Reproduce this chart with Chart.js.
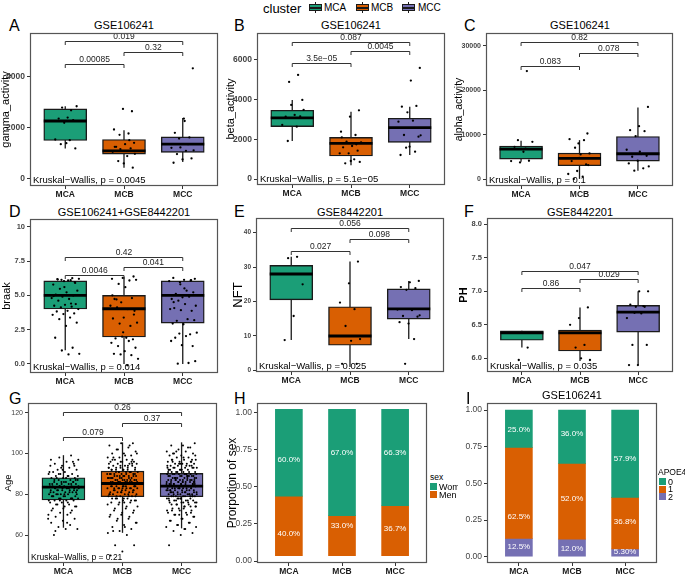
<!DOCTYPE html>
<html>
<head>
<meta charset="utf-8">
<script src="https://cdn.jsdelivr.net/npm/chart.js@4.4.1/dist/chart.umd.min.js"></script>
<style>
  body { margin: 0; background: #fff; font-family: "Liberation Sans", Arial, sans-serif; }
  #page { position: relative; width: 685px; height: 575px; overflow: hidden; background: #fff; }
  canvas { position: absolute; }
  .t { position: absolute; white-space: nowrap; line-height: 1; color: #000; }
  .c { transform: translate(-50%, -50%); }
  .l { transform: translateY(-50%); }
  .letter { font-size: 16px; }
  .title { font-size: 11px; }
  .key { position: absolute; }
</style>
</head>
<body>
<div id="page">
  <div class="t l" style="left:263px;top:8px;font-size:13px;">cluster</div>

  <div class="t l letter" style="left:9px;top:26px;">A</div>
  <div class="t l letter" style="left:234px;top:26px;">B</div>
  <div class="t l letter" style="left:464px;top:26px;">C</div>
  <div class="t l letter" style="left:9px;top:212px;">D</div>
  <div class="t l letter" style="left:234px;top:212px;">E</div>
  <div class="t l letter" style="left:464px;top:212px;">F</div>
  <div class="t l letter" style="left:9px;top:399px;">G</div>
  <div class="t l letter" style="left:234px;top:399px;">H</div>
  <div class="t l letter" style="left:466px;top:399px;z-index:3;">I</div>

  <div class="t c title" style="left:124px;top:25px;">GSE106241</div>
  <div class="t c title" style="left:351px;top:25px;">GSE106241</div>
  <div class="t c title" style="left:580px;top:25px;">GSE106241</div>
  <div class="t c title" style="left:124px;top:212px;">GSE106241+GSE8442201</div>
  <div class="t c title" style="left:350px;top:212px;">GSE8442201</div>
  <div class="t c title" style="left:580px;top:212px;">GSE8442201</div>
  <div class="t c title" style="left:572px;top:395px;z-index:3;">GSE106241</div>

  <div class="t l" style="left:430px;top:477px;font-size:8.5px;">sex</div>
  <div class="t l" style="left:658px;top:472px;font-size:8.5px;z-index:3;">APOE4</div>
</div>

<script>
var FONT = '"Liberation Sans", Arial, sans-serif';

// categories
var groups = ['MCA', 'MCB', 'MCC'];
var comparePairs = [[1, 2], [2, 3], [1, 3]];
var clusterColors = ['#1B9E77', '#D95F02', '#7570B3'];

// A: gamma_activity  (box stats: lower whisker, q1, median, q3, upper whisker)
var gammaStats = [[1173, 1485, 2250, 2723, 2827], [417, 951, 1081, 1524, 1889], [638, 1016, 1342, 1629, 2371]];
var gammaPoints = [
  [2671, 2775, 2827, 2384, 2345, 2280, 2176, 1524, 1498, 1342, 1173, 1380],
  [2632, 2723, 1915, 1759, 1707, 1394, 1342, 1238, 1173, 1081, 1042, 873, 678, 417, 586, 1238, 1498, 1150, 960],
  [4313, 2345, 1785, 1603, 1212, 1199, 1081, 951, 782, 743, 612, 1342, 1563, 1100, 2250]
];
var gammaSigY = [4500, 4960, 5390];
var gammaSigP = ['0.00085', '0.32', '0.019'];
var gammaTicks = [0, 2000, 4000];
var gammaTickLabels = ['0', '2000', '4000'];

// B: beta_activity
var betaStats = [[1916, 2639, 3076, 3462, 3983], [689, 1160, 1798, 2101, 3395], [1210, 1849, 2588, 3059, 3647]];
var betaPoints = [
  [5244, 4891, 3479, 3227, 3143, 3160, 3731, 2723, 2639, 1916, 3983],
  [3462, 3143, 2387, 2218, 1882, 1850, 1664, 1597, 1429, 1294, 1294, 992, 790, 860, 908, 2101, 1750],
  [5597, 4958, 3647, 3681, 3361, 2891, 2941, 2218, 2134, 1630, 1210, 1378, 1580, 2200]
];
var betaSigY = [5859, 6448, 6902];
var betaSigP = ['3.5e\u221205', '0.0045', '0.087'];
var betaTicks = [0, 2000, 4000, 6000];
var betaTickLabels = ['0', '2000', '4000', '6000'];

// C: alpha_activity
var alphaStats = [[3955, 4552, 6791, 7463, 8657], [100, 3060, 4701, 5896, 8806], [1940, 4104, 5746, 9627, 16119]];
var alphaPoints = [
  [24328, 8806, 8433, 6194, 7313, 4179, 3806, 4104, 6900],
  [10299, 8060, 9030, 8806, 7090, 5821, 5597, 4104, 3358, 1866, 1194, 597, 75, 3200, 4800],
  [16269, 11940, 11045, 10821, 9701, 6642, 5672, 5075, 5299, 4179, 3582, 2463, 1940, 2900, 6194]
];
var alphaSigY = [25528, 28449, 30854];
var alphaSigP = ['0.083', '0.078', '0.82'];
var alphaTicks = [0, 10000, 20000, 30000];
var alphaTickLabels = ['0', '10000', '20000', '30000'];

// D: braak
var braakStats = [[1, 4, 5, 6.05, 6.05], [0, 1.96, 4.02, 5, 6.35], [0, 2.97, 5, 6.05, 6.05]];
var braakPoints = [
  [6.25, 6.13, 6.2, 6.08, 6.18, 5.96, 6.03, 5.78, 6.1, 5.47, 5.34, 5.22, 5.05, 4.98, 4.9, 4.8, 4.73, 4.61, 4.36, 4.31,
   4.24, 4.17, 4.12, 4.0, 3.87, 3.82, 3.68, 3.63, 3.58, 3.38, 3.26, 3.01, 2.77, 1.91, 1.18, 0.98, 0.74, 0.69, 6.15, 5.9, 5.6, 4.95, 4.4],
  [6.37, 6.27, 6.2, 6.08, 5.83, 6.13, 5.59, 4.73, 4.8, 4.49, 4.24, 4.0, 4.12, 3.87, 3.38, 3.31, 2.77, 2.94, 3.01, 1.91,
   1.86, 1.79, 1.99, 1.54, 1.67, 1.3, 1.18, 0.93, 0.74, 0.64, 0.69, 0.37, -0.1, 4.7, 3.6, 2.3, 5.0],
  [6.2, 6.13, 6.27, 6.08, 5.96, 6.03, 5.34, 5.1, 5.22, 4.85, 4.73, 4.9, 4.61, 4.24, 4.36, 4.07, 3.87, 3.92, 4.0, 3.26,
   3.14, 3.19, 2.89, 2.94, 2.16, 2.21, 2.28, 2.03, 1.91, 1.3, 1.37, 1.67, 0.07, 0.02, 0.2, 5.5, 4.5, 6.1, 5.8]
];
var braakSigY = [6.48, 7.04, 7.81];
var braakSigP = ['0.0046', '0.041', '0.42'];
var braakTicks = [0, 2.5, 5, 7.5, 10];
var braakTickLabels = ['0.0', '2.5', '5.0', '7.5', '10'];

// E: NFT
var nftStats = [[8.8, 20.5, 28.0, 30.5, 33.0], [1.0, 7.3, 10.0, 18.5, 31.6], [9.1, 14.9, 17.9, 23.7, 26.0]];
var nftPoints = [
  [33.0, 32.6, 25.0, 15.8, 8.8],
  [31.6, 25.3, 19.7, 17.8, 12.9, 9.1, 8.6, 1.9, 1.9],
  [26.0, 25.6, 24.2, 23.9, 23.4, 17.7, 17.5, 15.8, 15.6, 13.6, 14.0, 9.1, 1.9, 16.0]
];
var nftSigY = [34.7, 38.1, 41.3];
var nftSigP = ['0.027', '0.098', '0.056'];
var nftTicks = [0, 10, 20, 30, 40];
var nftTickLabels = ['0', '10', '20', '30', '40'];

// F: PH
var phStats = [[6.16, 6.27, 6.38, 6.41, 6.41], [5.96, 6.11, 6.38, 6.42, 6.76], [5.9, 6.39, 6.69, 6.79, 7.0]];
var phPoints = [
  [6.16, 5.975],
  [6.76, 6.6, 6.5, 6.2, 6.16, 5.975, 6.0],
  [7.0, 7.0, 6.8, 6.77, 6.77, 6.6, 6.67, 6.2, 6.2, 5.9, 5.9, 6.78, 6.68]
];
var phSigY = [7.045, 7.18, 7.31];
var phSigP = ['0.86', '0.029', '0.047'];
var phTicks = [6, 6.5, 7, 7.5, 8];
var phTickLabels = ['6.0', '6.5', '7.0', '7.5', '8.0'];

// G: Age
var ageStats = [[63.6, 77.2, 83.5, 88.1, 99.2], [61.1, 78.8, 85.3, 91.4, 105.5], [63.3, 78.8, 84.0, 90.3, 105.5]];
var agePoints = [
  [99, 98, 97, 96, 95, 95, 94, 94, 93, 92, 92, 91, 91, 90, 90, 90, 89, 89, 88, 88, 88, 87, 87, 87, 86, 86, 86, 86, 85, 85,
   85, 85, 84, 84, 84, 84, 83, 83, 83, 83, 83, 82, 82, 82, 82, 81, 81, 81, 80, 80, 80, 80, 79, 79, 79, 78, 78, 78, 77, 77,
   77, 76, 76, 75, 75, 74, 74, 73, 72, 71, 70, 70, 69, 68, 67, 66, 65, 64, 63, 63, 60,
   96, 93, 91, 89, 88, 87, 86, 85, 85, 84, 84, 83, 83, 82, 82, 81, 81, 80, 80, 79, 79, 78, 78, 77, 76, 75, 74, 73, 72, 71,
   90, 89, 88, 87, 86, 85, 84, 83, 82, 81, 80, 79, 78, 77, 68, 66, 62, 94, 92, 97],
  [105, 105, 104, 103, 102, 101, 100, 100, 99, 98, 98, 97, 97, 96, 96, 96, 95, 95, 95, 94, 94, 94, 93, 93, 93, 92, 92, 92, 92, 91,
   91, 91, 91, 90, 90, 90, 90, 89, 89, 89, 89, 88, 88, 88, 88, 87, 87, 87, 87, 86, 86, 86, 86, 86, 85, 85, 85, 85, 85, 84,
   84, 84, 84, 83, 83, 83, 83, 82, 82, 82, 81, 81, 81, 80, 80, 80, 79, 79, 79, 78, 78, 77, 77, 76, 76, 75, 74, 73, 72, 71,
   70, 69, 68, 67, 66, 65, 64, 63, 62, 61, 60, 55, 55, 52, 50,
   104, 102, 100, 99, 98, 97, 96, 95, 94, 93, 93, 92, 92, 91, 91, 90, 90, 89, 89, 88, 88, 88, 87, 87, 87, 86, 86, 86, 85, 85,
   85, 84, 84, 84, 83, 83, 83, 82, 82, 81, 81, 80, 80, 79, 79, 78, 78, 77, 76, 75, 74, 73, 72, 71, 70, 69, 68, 66, 64, 62,
   95, 94, 93, 92, 91, 90, 89, 88, 87, 86, 85, 84, 83, 82, 81, 80, 79, 78, 77, 76, 97, 96, 89, 88, 86, 85, 84, 83, 90, 91],
  [105, 104, 104, 103, 102, 101, 101, 100, 100, 99, 99, 98, 98, 97, 97, 97, 96, 96, 96, 95, 95, 95, 95, 94, 94, 94, 93, 93, 93, 93,
   92, 92, 92, 91, 91, 91, 91, 90, 90, 90, 90, 90, 89, 89, 89, 89, 88, 88, 88, 88, 87, 87, 87, 87, 87, 86, 86, 86, 86, 86,
   85, 85, 85, 85, 85, 84, 84, 84, 84, 84, 84, 83, 83, 83, 83, 83, 82, 82, 82, 82, 81, 81, 81, 81, 80, 80, 80, 80, 79, 79,
   79, 79, 78, 78, 78, 77, 77, 77, 76, 76, 75, 75, 74, 74, 73, 72, 72, 71, 70, 70, 69, 68, 67, 66, 65, 64, 63, 62, 61, 60, 55,
   103, 101, 99, 98, 97, 96, 95, 94, 94, 93, 93, 92, 92, 91, 91, 90, 90, 90, 89, 89, 89, 88, 88, 88, 87, 87, 87, 86, 86, 86,
   85, 85, 85, 85, 84, 84, 84, 84, 83, 83, 83, 82, 82, 82, 81, 81, 81, 80, 80, 80, 79, 79, 79, 78, 78, 77, 77, 76, 76, 75,
   74, 73, 72, 71, 70, 69, 68, 67, 66, 65, 64, 63, 96, 94, 92, 91, 89, 88, 87, 86, 85, 84, 83, 82, 81, 80, 79, 78, 77, 76,
   75, 74, 73, 72, 71, 70, 93, 90, 88, 86, 84, 82, 80, 78, 76, 74, 100, 97, 95, 92, 89, 87, 85, 83, 81, 79]
];
var ageSigY = [107.9, 114.8, 120.5];
var ageSigP = ['0.079', '0.37', '0.26'];
var ageTicks = [60, 80, 100, 120];
var ageTickLabels = ['60', '80', '100', '120'];

// H: sex proportions
var sexLevels = ['Women', 'Men'];
var sexColors = ['#1B9E77', '#D95F02'];
var sexBarBottom = [0.036, 0.036, 0.036];
var sexMenTop = [0.438, 0.306, 0.373];
var sexBarTop = [1.022, 1.022, 1.022];
var sexWomenLabels = ['60.0%', '67.0%', '66.3%'];
var sexWomenLabelY = [0.681, 0.73, 0.73];
var sexMenLabels = ['40.0%', '33.0%', '36.7%'];
var sexMenLabelY = [0.187, 0.238, 0.216];

// I: APOE4 proportions
var apoeLevels = ['0', '1', '2'];
var apoeColors = ['#1B9E77', '#D95F02', '#7570B3'];
var apoe2Top = [0.125, 0.12, 0.053];
var apoe1Top = [0.745, 0.636, 0.405];
var apoeTop = [1, 1, 1];
var apoe0Labels = ['25.0%', '36.0%', '57.9%'];
var apoe0LabelY = [0.868, 0.836, 0.67];
var apoe1Labels = ['62.5%', '52.0%', '36.8%'];
var apoe1LabelY = [0.273, 0.398, 0.239];
var apoe2Labels = ['12.5%', '12.0%', '5.30%'];
var apoe2LabelY = [0.068, 0.052, 0.034];
var propTicks = [0, 0.25, 0.5, 0.75, 1];
var propTickLabels = ['0.00', '0.25', '0.50', '0.75', '1.00'];

var page = document.getElementById('page');

function jitterX(i, w) {
  return (((i + 1) * 0.618034 + 0.13) % 1 - 0.5) * 2 * w;
}

function makeCanvas(geo) {
  var cv = document.createElement('canvas');
  var h = geo.B - geo.T + 8 + 14;
  cv.width = geo.cw; cv.height = h;
  cv.style.left = geo.cl + 'px';
  cv.style.top = (geo.T - 8) + 'px';
  cv.style.width = geo.cw + 'px';
  cv.style.height = h + 'px';
  if (geo.bg) { cv.style.background = geo.bg; cv.style.zIndex = 2; }
  page.appendChild(cv);
  return cv;
}

function axisOptions(geo, s) {
  return {
    x: {
      type: 'linear', min: 0.4, max: 3.6, offset: false,
      afterBuildTicks: function(ax) { ax.ticks = [1, 2, 3].map(function(v) { return {value: v}; }); },
      afterFit: function(ax) { ax.height = 14; },
      ticks: {
        callback: function(v, i) { return groups[i]; },
        font: {family: FONT, size: 8.5, weight: 'bold'}, color: '#1a1a1a', padding: 1, maxRotation: 0, autoSkip: false
      },
      grid: {display: true, drawOnChartArea: false, drawTicks: true, tickLength: 3, color: '#333', offset: false},
      border: {display: false}
    },
    y: {
      type: 'linear', min: s.yMin, max: s.yMax,
      afterBuildTicks: function(ax) { ax.ticks = s.ticks.map(function(v) { return {value: v}; }); },
      afterFit: function(ax) { ax.width = geo.L - geo.cl; },
      ticks: {
        callback: function(v, i) { return s.tickLabels[i]; },
        font: {family: FONT, size: s.tickSize || 7.5, weight: s.tickWeight || 'bold'}, color: '#444', padding: 2, autoSkip: false
      },
      grid: {display: true, drawOnChartArea: false, drawTicks: true, tickLength: 3, color: '#333'},
      border: {display: false},
      title: {
        display: !!s.yTitle, text: s.yTitle, color: '#000',
        font: {family: FONT, size: s.yTitleSize || 11, weight: s.yTitleWeight || 'normal', lineHeight: 1},
        padding: {top: Math.max(0, geo.yTitleX - geo.cl - (s.yTitleSize || 11) / 2), bottom: 0}
      }
    }
  };
}

function drawFrame(chart) {
  var a = chart.chartArea, ctx = chart.ctx;
  ctx.save();
  ctx.strokeStyle = '#555';
  ctx.lineWidth = 1.2;
  ctx.strokeRect(a.left + 0.5, a.top + 0.5, a.right - a.left - 1, a.bottom - a.top - 1);
  ctx.restore();
}

function boxExtras(s) {
  return {
    id: 'boxExtras',
    beforeDatasetsDraw: function(chart) {
      var ctx = chart.ctx, xs = chart.scales.x, ys = chart.scales.y;
      ctx.save();
      ctx.strokeStyle = '#1a1a1a';
      ctx.lineWidth = 1.3;
      s.stats.forEach(function(st, g) {
        var px = xs.getPixelForValue(g + 1);
        ctx.beginPath();
        ctx.moveTo(px, ys.getPixelForValue(st[0]));
        ctx.lineTo(px, ys.getPixelForValue(st[4]));
        ctx.stroke();
      });
      ctx.restore();
    },
    afterDatasetDraw: function(chart, args) {
      if (args.index !== 0) return;
      var ctx = chart.ctx, xs = chart.scales.x, ys = chart.scales.y;
      ctx.save();
      ctx.strokeStyle = '#000';
      ctx.lineWidth = 2.8;
      s.stats.forEach(function(st, g) {
        var px = xs.getPixelForValue(g + 1), py = ys.getPixelForValue(st[2]);
        ctx.beginPath();
        ctx.moveTo(px - s.boxW / 2, py);
        ctx.lineTo(px + s.boxW / 2, py);
        ctx.stroke();
      });
      ctx.restore();
    },
    afterDraw: function(chart) {
      var ctx = chart.ctx, xs = chart.scales.x, ys = chart.scales.y, a = chart.chartArea;
      ctx.save();
      ctx.strokeStyle = '#333';
      ctx.lineWidth = 1;
      ctx.fillStyle = '#222';
      ctx.font = '8.5px ' + FONT;
      ctx.textAlign = 'center';
      ctx.textBaseline = 'bottom';
      comparePairs.forEach(function(p, k) {
        var x1 = xs.getPixelForValue(p[0]), x2 = xs.getPixelForValue(p[1]);
        var py = Math.round(ys.getPixelForValue(s.sigY[k])) + 0.5;
        ctx.beginPath();
        ctx.moveTo(x1, py + 3.5);
        ctx.lineTo(x1, py);
        ctx.lineTo(x2, py);
        ctx.lineTo(x2, py + 3.5);
        ctx.stroke();
        ctx.fillText(s.sigP[k], (x1 + x2) / 2, py - 0.5);
      });
      ctx.textAlign = 'left';
      ctx.textBaseline = 'middle';
      ctx.fillStyle = '#000';
      ctx.font = (s.kwSize || 9.5) + 'px ' + FONT;
      ctx.fillText(s.kw, a.left + 3, a.bottom - 5.5);
      ctx.restore();
      drawFrame(chart);
    }
  };
}

function boxChart(geo, s) {
  var pts = [];
  s.points.forEach(function(arr, g) {
    arr.forEach(function(v, i) {
      pts.push({x: g + 1 + jitterX(i + 5 * g, s.jw || 0.2), y: v});
    });
  });
  s.boxW = s.boxW || 43;
  new Chart(makeCanvas(geo), {
    type: 'bar',
    data: {
      datasets: [
        {
          type: 'bar', order: 1, grouped: false,
          data: s.stats.map(function(st, g) { return {x: g + 1, y: [st[1], st[3]]}; }),
          backgroundColor: clusterColors, borderColor: '#1a1a1a', borderWidth: 1.4,
          borderSkipped: false, barThickness: s.boxW
        },
        {
          type: 'scatter', order: 0, data: pts,
          pointRadius: s.r || 1.15, pointBackgroundColor: '#000', pointBorderWidth: 0
        }
      ]
    },
    options: {
      responsive: false, animation: false, devicePixelRatio: 1,
      layout: {padding: {left: 0, right: geo.cl + geo.cw - geo.R, top: 8, bottom: 0}},
      plugins: {legend: {display: false}, tooltip: {enabled: false}},
      scales: axisOptions(geo, s)
    },
    plugins: [boxExtras(s)]
  });
}

function stackChart(geo, s) {
  new Chart(makeCanvas(geo), {
    type: 'bar',
    data: {
      datasets: s.layers.map(function(layer) {
        return {
          grouped: false,
          data: layer.lo.map(function(lo, g) { return {x: g + 1, y: [lo, layer.hi[g]]}; }),
          backgroundColor: layer.color, borderWidth: 0, barThickness: 27
        };
      })
    },
    options: {
      responsive: false, animation: false, devicePixelRatio: 1,
      layout: {padding: {left: 0, right: geo.cl + geo.cw - geo.R, top: 8, bottom: 0}},
      plugins: {legend: {display: false}, tooltip: {enabled: false}},
      scales: axisOptions(geo, s)
    },
    plugins: [{
      id: 'stackLabels',
      afterDatasetsDraw: function(chart) {
        var ctx = chart.ctx, xs = chart.scales.x, ys = chart.scales.y;
        ctx.save();
        ctx.fillStyle = '#fff';
        ctx.font = '8px ' + FONT;
        ctx.textAlign = 'center';
        ctx.textBaseline = 'middle';
        s.layers.forEach(function(layer) {
          layer.labels.forEach(function(txt, g) {
            ctx.fillText(txt, xs.getPixelForValue(g + 1), ys.getPixelForValue(layer.labelY[g]));
          });
        });
        ctx.restore();
      },
      afterDraw: drawFrame
    }]
  });
}

// cluster legend at the top
var keyX = [309, 356, 402];
var keyTextX = [324, 371, 418];
groups.forEach(function(name, g) {
  var k = document.createElement('div');
  k.className = 'key';
  k.style.cssText = 'left:' + keyX[g] + 'px;top:2px;width:13px;height:11px;';
  k.innerHTML =
    '<div style="position:absolute;left:6px;top:0;width:1px;height:11px;background:#1a1a1a"></div>' +
    '<div style="position:absolute;left:0;top:2px;width:11px;height:5px;background:' + clusterColors[g] + ';border:1px solid #1a1a1a"></div>' +
    '<div style="position:absolute;left:0;top:4.5px;width:13px;height:2px;background:#1a1a1a"></div>';
  page.appendChild(k);
  var t = document.createElement('div');
  t.className = 't l';
  t.style.cssText = 'left:' + keyTextX[g] + 'px;top:8px;font-size:10px;';
  t.textContent = name;
  page.appendChild(t);
});

// fill legends for H and I
function fillKey(x, y, color, label, z) {
  var k = document.createElement('div');
  k.className = 'key';
  k.style.cssText = 'left:' + x + 'px;top:' + y + 'px;width:7px;height:7px;background:' + color + ';z-index:' + z;
  page.appendChild(k);
  var t = document.createElement('div');
  t.className = 't l';
  t.style.cssText = 'left:' + (x + 9) + 'px;top:' + (y + 3.5) + 'px;font-size:9px;z-index:' + z;
  t.textContent = label;
  page.appendChild(t);
}
fillKey(430, 483, sexColors[0], sexLevels[0], 1);
fillKey(430, 491, sexColors[1], sexLevels[1], 1);
fillKey(659, 478, apoeColors[0], apoeLevels[0], 3);
fillKey(659, 485.5, apoeColors[1], apoeLevels[1], 3);
fillKey(659, 493, apoeColors[2], apoeLevels[2], 3);

var KW = 'Kruskal\u2212Wallis, p = ';

boxChart({cl: 0, cw: 225, L: 30, R: 218, T: 33, B: 186, yTitleX: 6},
  {stats: gammaStats, points: gammaPoints, sigY: gammaSigY, sigP: gammaSigP, kw: KW + '0.0045',
   yMin: -300, yMax: 5700, ticks: gammaTicks, tickLabels: gammaTickLabels, yTitle: 'gamma_activity', tickSize: 8.5});

boxChart({cl: 225, cw: 230, L: 257, R: 445, T: 33, B: 185, yTitleX: 231},
  {stats: betaStats, points: betaPoints, sigY: betaSigY, sigP: betaSigP, kw: KW + '5.1e\u221205',
   yMin: -300, yMax: 7355, ticks: betaTicks, tickLabels: betaTickLabels, yTitle: 'beta_activity', tickSize: 8.5});

boxChart({cl: 450, cw: 235, L: 486, R: 673, T: 33, B: 186, yTitleX: 459},
  {stats: alphaStats, points: alphaPoints, sigY: alphaSigY, sigP: alphaSigP, kw: KW + '0.1',
   yMin: -1500, yMax: 32880, ticks: alphaTicks, tickLabels: alphaTickLabels, yTitle: 'alpha_activity', yTitleSize: 10.5,
   tickSize: 7});

boxChart({cl: 0, cw: 225, L: 30, R: 218, T: 219, B: 373, yTitleX: 7},
  {stats: braakStats, points: braakPoints, sigY: braakSigY, sigP: braakSigP, kw: KW + '0.014',
   yMin: -0.66, yMax: 10.56, ticks: braakTicks, tickLabels: braakTickLabels, yTitle: 'braak', jw: 0.24, tickSize: 7.5});

boxChart({cl: 225, cw: 230, L: 256, R: 444, T: 218, B: 372, yTitleX: 238},
  {stats: nftStats, points: nftPoints, sigY: nftSigY, sigP: nftSigP, kw: KW + '0.025',
   yMin: -0.46, yMax: 44.27, ticks: nftTicks, tickLabels: nftTickLabels, yTitle: 'NFT', yTitleSize: 13, tickSize: 6.5});

boxChart({cl: 455, cw: 230, L: 487, R: 673, T: 218, B: 372, yTitleX: 464},
  {stats: phStats, points: phPoints, sigY: phSigY, sigP: phSigP, kw: KW + '0.035',
   yMin: 5.796, yMax: 8.094, ticks: phTicks, tickLabels: phTickLabels, yTitle: 'PH', yTitleWeight: 'bold', tickSize: 7.5});

boxChart({cl: 0, cw: 225, L: 28, R: 217, T: 403, B: 563, yTitleX: 8},
  {stats: ageStats, points: agePoints, sigY: ageSigY, sigP: ageSigP, kw: KW + '0.21', kwSize: 8.5,
   yMin: 46.3, yMax: 124.8, ticks: ageTicks, tickLabels: ageTickLabels, yTitle: 'Age', yTitleSize: 9.5,
   jw: 0.26, r: 1.0, tickWeight: 'normal', tickSize: 7});

stackChart({cl: 225, cw: 230, L: 257, R: 427, T: 403, B: 563, yTitleX: 233},
  {yMin: -0.013, yMax: 1.065, ticks: propTicks, tickLabels: propTickLabels, yTitle: 'Prorpotion of sex', yTitleSize: 12,
   tickWeight: 'normal', tickSize: 8.5,
   layers: [
     {lo: sexMenTop, hi: sexBarTop, color: sexColors[0], labels: sexWomenLabels, labelY: sexWomenLabelY},
     {lo: sexBarBottom, hi: sexMenTop, color: sexColors[1], labels: sexMenLabels, labelY: sexMenLabelY}
   ]});

stackChart({cl: 458, cw: 227, L: 487, R: 657, T: 403, B: 563, yTitleX: 460, bg: '#fff'},
  {yMin: -0.043, yMax: 1.048, ticks: propTicks, tickLabels: propTickLabels, yTitle: '',
   tickWeight: 'normal', tickSize: 8.5,
   layers: [
     {lo: apoe1Top, hi: apoeTop, color: apoeColors[0], labels: apoe0Labels, labelY: apoe0LabelY},
     {lo: apoe2Top, hi: apoe1Top, color: apoeColors[1], labels: apoe1Labels, labelY: apoe1LabelY},
     {lo: [0, 0, 0], hi: apoe2Top, color: apoeColors[2], labels: apoe2Labels, labelY: apoe2LabelY}
   ]});
</script>
</body>
</html>
